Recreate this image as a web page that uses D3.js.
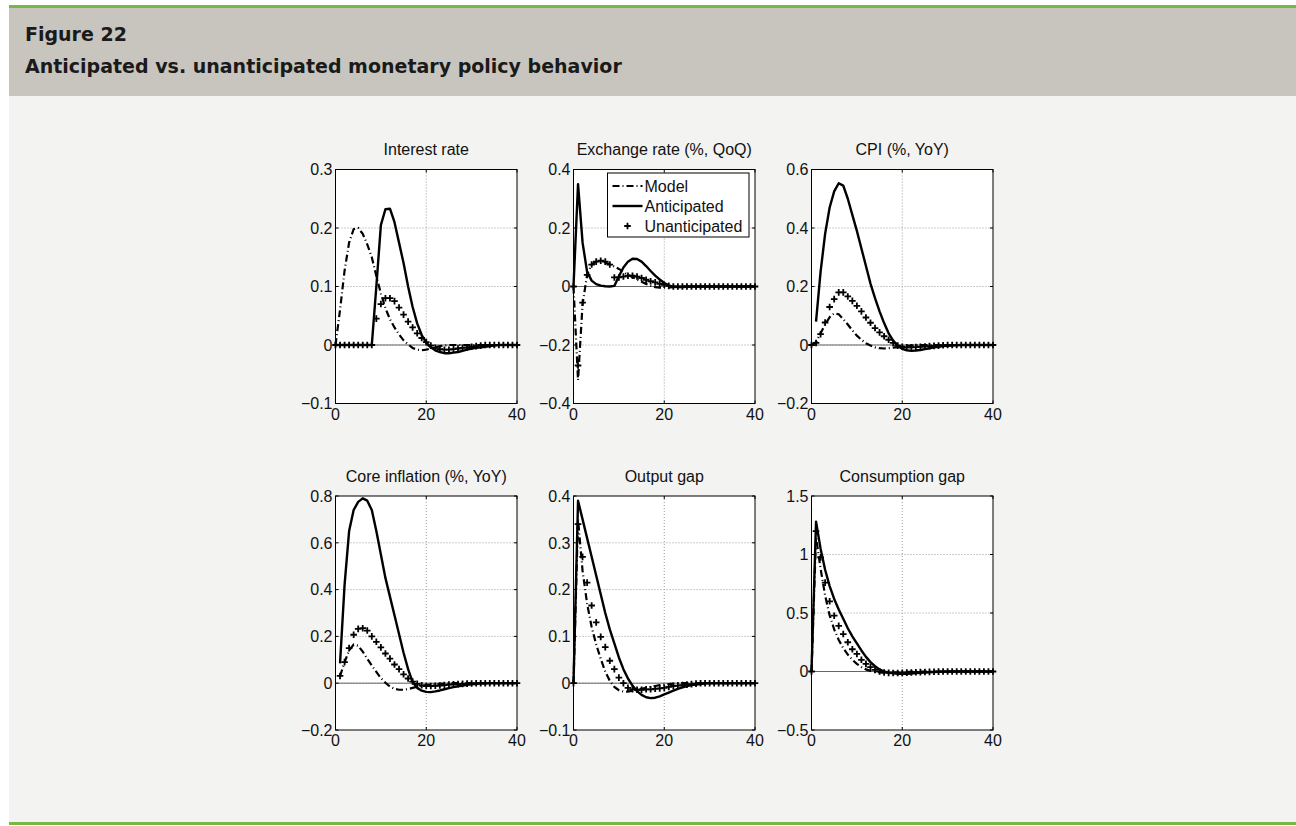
<!DOCTYPE html>
<html>
<head>
<meta charset="utf-8">
<script src="https://cdn.jsdelivr.net/npm/d3@7"></script>
<style>
  body { margin: 0; background: #fff; }
  svg { display: block; }
</style>
</head>
<body>
<svg id="fig" width="1296" height="826"></svg>
<script>
// horizon (quarters)
var periods = [0,1,2,3,4,5,6,7,8,9,10,11,12,13,14,15,16,17,18,19,20,
               21,22,23,24,25,26,27,28,29,30,31,32,33,34,35,36,37,38,39,40];

var panelTitles = ["Interest rate", "Exchange rate (%, QoQ)", "CPI (%, YoY)",
                   "Core inflation (%, YoY)", "Output gap", "Consumption gap"];
var seriesNames = ["Model", "Anticipated", "Unanticipated"];

// Interest rate
var rateModel = [0,0.06,0.127,0.175,0.198,0.2,0.19,0.172,0.15,0.118,0.088,0.063,0.044,0.03,0.018,0.008,0.001,-0.005,-0.008,-0.009,-0.008,-0.006,-0.004,-0.002,-0.001,
                 0,0,0,0,0,0,0,0,0,0,0,0,0,0,0,0];
var rateAnt = [0,0,0,0,0,0,0,0,0,0.1,0.205,0.232,0.233,0.21,0.175,0.14,0.1,0.065,0.037,0.017,0.004,-0.004,-0.009,-0.012,-0.014,-0.014,-0.013,-0.012,-0.01,-0.008,-0.006,-0.005,-0.004,-0.003,-0.002,-0.001,
               0,0,0,0,0];
var rateUnant = [0,0,0,0,0,0,0,0,0,0.045,0.07,0.08,0.08,0.075,0.064,0.052,0.04,0.03,0.02,0.012,0.005,-0.001,-0.005,-0.007,-0.008,-0.008,-0.007,-0.006,-0.005,-0.004,-0.003,-0.002,-0.001,
                 0,0,0,0,0,0,0,0];

// Exchange rate
var fxModel = [0,-0.32,-0.06,0.04,0.075,0.085,0.086,0.082,0.076,0.068,0.06,0.05,0.04,0.032,0.024,0.016,0.009,0.003,-0.002,-0.004,-0.004,-0.003,-0.002,-0.001,
               0,0,0,0,0,0,0,0,0,0,0,0,0,0,0,0,0];
var fxAnt = [0,0.35,0.15,0.05,0.02,0.008,0.003,0.001,0,0.002,0.035,0.065,0.085,0.095,0.094,0.085,0.07,0.053,0.037,0.024,0.012,0.004,-0.001,-0.002,-0.002,-0.001,
             0,0,0,0,0,0,0,0,0,0,0,0,0,0,0];
var fxUnant = [0,-0.27,-0.055,0.04,0.075,0.085,0.088,0.085,0.075,0.031,0.031,0.034,0.037,0.037,0.034,0.029,0.023,0.018,0.014,0.009,0.006,0.002,
               0,0,0,0,0,0,0,0,0,0,0,0,0,0,0,0,0,0,0];

// CPI
var cpiModel = [0,0.01,0.04,0.07,0.095,0.108,0.105,0.088,0.07,0.05,0.032,0.018,0.006,-0.002,-0.008,-0.011,-0.012,-0.011,-0.009,-0.007,-0.005,-0.003,-0.002,-0.001,
                0,0,0,0,0,0,0,0,0,0,0,0,0,0,0,0,0];
var cpiAnt = [null,0.08,0.25,0.38,0.47,0.525,0.553,0.545,0.5,0.445,0.39,0.33,0.27,0.21,0.16,0.115,0.075,0.04,0.015,-0.003,-0.013,-0.018,-0.02,-0.019,-0.017,-0.014,-0.011,-0.008,-0.006,-0.004,-0.003,-0.002,-0.001,
              0,0,0,0,0,0,0,0];
var cpiUnant = [0,0.007,0.037,0.077,0.13,0.157,0.18,0.18,0.166,0.151,0.134,0.115,0.094,0.076,0.058,0.043,0.03,0.018,0.007,-0.002,-0.006,-0.008,-0.008,-0.007,-0.006,-0.005,-0.004,-0.003,-0.002,-0.001,
                0,0,0,0,0,0,0,0,0,0,0];

// Core inflation
var coreModel = [null,0.03,0.09,0.14,0.165,0.16,0.135,0.105,0.075,0.048,0.022,0.002,-0.014,-0.024,-0.028,-0.028,-0.025,-0.02,-0.015,-0.011,-0.008,-0.006,-0.004,-0.003,-0.002,-0.001,
                 0,0,0,0,0,0,0,0,0,0,0,0,0,0,0];
var coreAnt = [null,0.085,0.42,0.65,0.74,0.775,0.79,0.78,0.74,0.65,0.55,0.45,0.37,0.29,0.21,0.13,0.06,0.005,-0.02,-0.032,-0.037,-0.038,-0.035,-0.031,-0.026,-0.021,-0.017,-0.013,-0.01,-0.007,-0.005,-0.003,-0.002,-0.001,
               0,0,0,0,0,0,0];
var coreUnant = [null,0.031,0.09,0.15,0.207,0.232,0.235,0.225,0.2,0.177,0.153,0.127,0.105,0.08,0.06,0.038,0.02,0.007,-0.003,-0.009,-0.012,-0.012,-0.011,-0.01,-0.008,-0.006,-0.005,-0.004,-0.003,-0.002,-0.001,
                 0,0,0,0,0,0,0,0,0,0];

// Output gap
var outModel = [0,0.35,0.24,0.17,0.12,0.083,0.052,0.025,0.005,-0.008,-0.015,-0.018,-0.018,-0.016,-0.014,-0.012,-0.01,-0.008,-0.006,-0.004,-0.003,-0.002,-0.001,
                0,0,0,0,0,0,0,0,0,0,0,0,0,0,0,0,0,0];
var outAnt = [0,0.39,0.35,0.31,0.27,0.23,0.19,0.15,0.115,0.085,0.055,0.03,0.01,-0.005,-0.017,-0.025,-0.03,-0.032,-0.031,-0.028,-0.024,-0.02,-0.016,-0.012,-0.009,-0.006,-0.004,-0.003,-0.002,-0.001,
              0,0,0,0,0,0,0,0,0,0,0];
var outUnant = [0,0.34,0.27,0.215,0.166,0.13,0.099,0.077,0.048,0.03,0.012,0,-0.01,-0.013,-0.014,-0.014,-0.013,-0.013,-0.012,-0.011,-0.01,-0.008,-0.006,-0.005,-0.004,-0.003,-0.002,-0.001,
                0,0,0,0,0,0,0,0,0,0,0,0,0];

// Consumption gap
var consModel = [0,1.15,0.88,0.65,0.48,0.36,0.27,0.2,0.145,0.1,0.065,0.038,0.018,0.005,-0.003,-0.008,-0.01,-0.01,-0.009,-0.007,-0.005,-0.003,-0.002,-0.001,
                 0,0,0,0,0,0,0,0,0,0,0,0,0,0,0,0,0];
var consAnt = [0,1.28,1.05,0.87,0.73,0.62,0.53,0.45,0.37,0.3,0.24,0.18,0.125,0.08,0.045,0.018,0,-0.01,-0.016,-0.019,-0.02,-0.019,-0.017,-0.014,-0.011,-0.009,-0.007,-0.005,-0.003,-0.002,-0.001,
               0,0,0,0,0,0,0,0,0,0];
var consUnant = [0,1.2,0.975,0.76,0.6,0.477,0.39,0.32,0.25,0.19,0.15,0.1,0.065,0.037,0.014,0,-0.008,-0.012,-0.013,-0.013,-0.012,-0.01,-0.008,-0.006,-0.005,-0.004,-0.003,-0.002,-0.001,
                 0,0,0,0,0,0,0,0,0,0,0,0];

// axis ticks
var xTicks = [0, 20, 40];
var rateTicks = [-0.1, 0, 0.1, 0.2, 0.3];
var fxTicks = [-0.4, -0.2, 0, 0.2, 0.4];
var cpiTicks = [-0.2, 0, 0.2, 0.4, 0.6];
var coreTicks = [-0.2, 0, 0.2, 0.4, 0.6, 0.8];
var outTicks = [-0.1, 0, 0.1, 0.2, 0.3, 0.4];
var consTicks = [-0.5, 0, 0.5, 1, 1.5];

var svg = d3.select("#fig");
var chartFont = "'Liberation Sans', Arial, Helvetica, sans-serif";

// page frame
svg.append("rect").attr("x", 9).attr("y", 5).attr("width", 1287).attr("height", 820).attr("fill", "#f3f3f1");
svg.append("rect").attr("x", 9).attr("y", 8).attr("width", 1287).attr("height", 88).attr("fill", "#c8c5be");
svg.append("rect").attr("x", 9).attr("y", 5).attr("width", 1287).attr("height", 3).attr("fill", "#76b843");
svg.append("rect").attr("x", 9).attr("y", 822).attr("width", 1287).attr("height", 3).attr("fill", "#76b843");

svg.append("text").attr("x", 25).attr("y", 41)
  .style("font-family", "'DejaVu Sans', Verdana, sans-serif").style("font-weight", "bold")
  .style("font-size", "19px").attr("fill", "#1a1a1a")
  .text("Figure 22");
svg.append("text").attr("x", 25).attr("y", 73)
  .style("font-family", "'DejaVu Sans', Verdana, sans-serif").style("font-weight", "bold")
  .style("font-size", "19px").attr("fill", "#1a1a1a")
  .text("Anticipated vs. unanticipated monetary policy behavior");

// panel grid positions
var colLeft = [335.5, 573.5, 811.5];
var rowTop = [169.5, 496];
var pw = 181.5, ph = 234;

var fmt = d3.format("~g");

function drawPanel(idx, ticks, model, ant, unant) {
  var left = colLeft[idx % 3], top = rowTop[Math.floor(idx / 3)];
  var x = d3.scaleLinear().domain([0, 40]).range([left, left + pw]);
  var y = d3.scaleLinear().domain([ticks[0], ticks[ticks.length - 1]]).range([top + ph, top]);
  var g = svg.append("g");

  g.append("rect").attr("x", left).attr("y", top).attr("width", pw).attr("height", ph).attr("fill", "#fff");

  // dotted grid
  g.selectAll(".gx").data(xTicks.slice(1, -1)).enter().append("line")
    .attr("x1", d => x(d)).attr("x2", d => x(d)).attr("y1", top).attr("y2", top + ph)
    .attr("stroke", "#9a9a9a").attr("stroke-width", 1).attr("stroke-dasharray", "1,2");
  g.selectAll(".gy").data(ticks.slice(1, -1)).enter().append("line")
    .attr("x1", left).attr("x2", left + pw).attr("y1", d => y(d)).attr("y2", d => y(d))
    .attr("stroke", "#9a9a9a").attr("stroke-width", 1).attr("stroke-dasharray", "1,2");

  // zero line
  g.append("line").attr("x1", left).attr("x2", left + pw).attr("y1", y(0)).attr("y2", y(0))
    .attr("stroke", "#666").attr("stroke-width", 1);

  var line = d3.line()
    .defined(d => d[1] != null)
    .x(d => x(d[0])).y(d => y(d[1]));

  g.append("path").datum(periods.map((p, i) => [p, model[i]]))
    .attr("d", line).attr("fill", "none").attr("stroke", "#000")
    .attr("stroke-width", 2.2).attr("stroke-dasharray", "7,3,1,3");
  g.append("path").datum(periods.map((p, i) => [p, ant[i]]))
    .attr("d", line).attr("fill", "none").attr("stroke", "#000")
    .attr("stroke-width", 2.4).attr("stroke-linejoin", "round");

  var pts = periods.map((p, i) => [p, unant[i]]).filter(d => d[1] != null);
  g.selectAll(".mk").data(pts).enter().append("path")
    .attr("transform", d => "translate(" + x(d[0]) + "," + y(d[1]) + ")")
    .attr("d", "M-3.3,0H3.3M0,-3.3V3.3")
    .attr("stroke", "#000").attr("stroke-width", 1.8);

  // box + small inward ticks
  g.append("rect").attr("x", left).attr("y", top).attr("width", pw).attr("height", ph)
    .attr("fill", "none").attr("stroke", "#000").attr("stroke-width", 1);
  xTicks.forEach(function (t) {
    g.append("line").attr("x1", x(t)).attr("x2", x(t)).attr("y1", top + ph).attr("y2", top + ph - 3).attr("stroke", "#000");
    g.append("line").attr("x1", x(t)).attr("x2", x(t)).attr("y1", top).attr("y2", top + 3).attr("stroke", "#000");
  });
  ticks.forEach(function (t) {
    g.append("line").attr("x1", left).attr("x2", left + 3).attr("y1", y(t)).attr("y2", y(t)).attr("stroke", "#000");
    g.append("line").attr("x1", left + pw).attr("x2", left + pw - 3).attr("y1", y(t)).attr("y2", y(t)).attr("stroke", "#000");
  });

  // tick labels
  g.selectAll(".yl").data(ticks).enter().append("text")
    .attr("x", left - 3).attr("y", d => y(d)).attr("dy", "0.36em")
    .attr("text-anchor", "end").style("font-family", chartFont).style("font-size", "16px")
    .attr("fill", "#111").text(d => fmt(d));
  g.selectAll(".xl").data(xTicks).enter().append("text")
    .attr("x", d => x(d)).attr("y", top + ph + 16)
    .attr("text-anchor", "middle").style("font-family", chartFont).style("font-size", "16px")
    .attr("fill", "#111").text(d => fmt(d));

  // title
  g.append("text").attr("x", left + pw / 2).attr("y", top - 14.5)
    .attr("text-anchor", "middle").style("font-family", chartFont).style("font-size", "16px")
    .attr("fill", "#111").text(panelTitles[idx]);

  return { x: x, y: y, left: left, top: top };
}

drawPanel(0, rateTicks, rateModel, rateAnt, rateUnant);
var fxPanel = drawPanel(1, fxTicks, fxModel, fxAnt, fxUnant);
drawPanel(2, cpiTicks, cpiModel, cpiAnt, cpiUnant);
drawPanel(3, coreTicks, coreModel, coreAnt, coreUnant);
drawPanel(4, outTicks, outModel, outAnt, outUnant);
drawPanel(5, consTicks, consModel, consAnt, consUnant);

// legend inside the exchange rate panel
var lg = svg.append("g").attr("transform", "translate(607.5,173)");
lg.append("rect").attr("width", 141.5).attr("height", 64).attr("fill", "#fff")
  .attr("stroke", "#000").attr("stroke-width", 1);
seriesNames.forEach(function (name, i) {
  var ly = 13 + i * 20;
  if (i === 0) {
    lg.append("line").attr("x1", 5).attr("x2", 35).attr("y1", ly).attr("y2", ly)
      .attr("stroke", "#000").attr("stroke-width", 2.2).attr("stroke-dasharray", "7,3,1,3");
  } else if (i === 1) {
    lg.append("line").attr("x1", 5).attr("x2", 35).attr("y1", ly).attr("y2", ly)
      .attr("stroke", "#000").attr("stroke-width", 2.4);
  } else {
    lg.append("path").attr("transform", "translate(20," + ly + ")")
      .attr("d", "M-3.3,0H3.3M0,-3.3V3.3").attr("stroke", "#000").attr("stroke-width", 1.8);
  }
  lg.append("text").attr("x", 37).attr("y", ly).attr("dy", "0.36em")
    .style("font-family", chartFont).style("font-size", "16px").attr("fill", "#111").text(name);
});
</script>
</body>
</html>
